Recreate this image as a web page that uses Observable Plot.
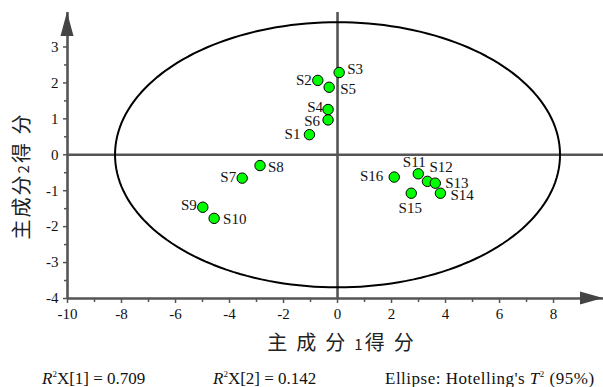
<!DOCTYPE html>
<html>
<head>
<meta charset="utf-8">
<script src="https://cdn.jsdelivr.net/npm/d3@7"></script>
<script src="https://cdn.jsdelivr.net/npm/@observablehq/plot@0.6"></script>
<style>
  html, body { margin: 0; padding: 0; background: #fff; }
  #chart svg { display: block; }
</style>
</head>
<body>
<div id="chart"></div>
<script>
// PCA score plot: sample names and their scores on PC1 / PC2
const samples = ["S1","S2","S3","S4","S5","S6","S7","S8","S9","S10","S11","S12","S13","S14","S15","S16"];
const pc1 = [-1.04, -0.73, 0.06, -0.35, -0.31, -0.35, -3.53, -2.87, -4.99, -4.57, 2.99, 3.33, 3.62, 3.81, 2.73, 2.10];
const pc2 = [0.56, 2.07, 2.29, 1.26, 1.88, 0.97, -0.65, -0.30, -1.46, -1.77, -0.53, -0.74, -0.79, -1.07, -1.07, -0.62];

// Axis ticks
const xMajor = [-10, -8, -6, -4, -2, 0, 2, 4, 6, 8];
const xMinor = [-9, -7, -5, -3, -1, 1, 3, 5, 7];
const yMajor = [-4, -3, -2, -1, 0, 1, 2, 3];
const yMinor = [-3.5, -2.5, -1.5, -0.5, 0.5, 1.5, 2.5, 3.5];

// Hotelling's T² (95%) ellipse semi-axes
const ellipseA = 8.24;
const ellipseB = 3.69;

// Model summary
const r2x1 = 0.709;
const r2x2 = 0.142;

const xDomain = [-10, 9.85];
const yDomain = [-4, 3.96];

const points = samples.map((s, i) => ({name: s, x: pc1[i], y: pc2[i]}));

const ellipse = d3.range(0, 361, 2).map(t => {
  const a = t * Math.PI / 180;
  return {x: ellipseA * Math.cos(a), y: ellipseB * Math.sin(a)};
});

// label placement around each dot: [dx, dy, anchor]
const labelPos = {
  S1: [-9, 0, "end"], S2: [-6, 0, "end"], S3: [8, -3, "start"], S4: [-5, -2, "end"],
  S5: [11, 2, "start"], S6: [-8, 1, "end"], S7: [-6, -1, "end"], S8: [8, 2, "start"],
  S9: [-6, -2, "end"], S10: [9, 1, "start"], S11: [-4, -12, "middle"], S12: [2, -14, "start"],
  S13: [10, 0, "start"], S14: [10, 2, "start"], S15: [-1, 15, "middle"], S16: [-11, -1, "end"]
};

const serif = "'Liberation Serif', 'Times New Roman', serif";
const axisColor = "#555";

const labelMarks = points.map(p => {
  const [dx, dy, anchor] = labelPos[p.name];
  return Plot.text([p], {x: "x", y: "y", text: "name", dx, dy, textAnchor: anchor,
    fontSize: 15, fontFamily: serif, fill: "#111"});
});

const chart = Plot.plot({
  width: 603,
  height: 387,
  marginLeft: 67,
  marginRight: 0,
  marginTop: 12,
  marginBottom: 89,
  style: {background: "#fff", overflow: "visible"},
  x: {domain: xDomain, axis: null},
  y: {domain: yDomain, axis: null},
  marks: [
    // zero lines
    Plot.ruleY([0], {stroke: axisColor, strokeWidth: 2.6}),
    Plot.ruleX([0], {stroke: axisColor, strokeWidth: 2.6}),
    // confidence ellipse
    Plot.line(ellipse, {x: "x", y: "y", stroke: "#000", strokeWidth: 2}),
    // axes
    Plot.ruleX([xDomain[0]], {stroke: axisColor, strokeWidth: 2.6}),
    Plot.ruleY([yDomain[0]], {stroke: axisColor, strokeWidth: 2.6}),
    Plot.axisX({ticks: xMajor, tickSize: 5, tickPadding: 5, stroke: axisColor, strokeWidth: 1.5, label: null,
      tickFormat: d => String(d), fontSize: 15, fontFamily: serif, fill: "#111"}),
    Plot.axisX({ticks: xMinor, tickSize: 4, stroke: axisColor, strokeWidth: 1.5, text: null, label: null}),
    Plot.axisY({ticks: yMajor, tickSize: 4, tickPadding: 5, stroke: axisColor, strokeWidth: 1.5, label: null,
      tickFormat: d => String(d), fontSize: 15, fontFamily: serif, fill: "#111"}),
    Plot.axisY({ticks: yMinor, tickSize: 3, stroke: axisColor, strokeWidth: 1.5, text: null, label: null}),
    // samples
    Plot.dot(points, {x: "x", y: "y", r: 5.2, fill: "#00ff00", stroke: "#000", strokeWidth: 1}),
    ...labelMarks
  ]
});

document.getElementById("chart").append(chart);

const svg = d3.select(chart);
const sx = chart.scale("x"), sy = chart.scale("y");

// filled arrow heads at the ends of both axes, placed through the plot scales
function arrowHead(px, py, angle, len, half) {
  svg.append("path")
    .attr("transform", `translate(${px},${py}) rotate(${angle})`)
    .attr("d", `M0,0L${half},${len}L${-half},${len}Z`)
    .attr("fill", "#444");
}
arrowHead(sx.apply(xDomain[0]), sy.apply(yDomain[1]), 0, 24, 6.5);
arrowHead(sx.apply(xDomain[1]), sy.apply(yDomain[0]), 90, 23, 6.5);

// axis titles and footer notes
const cjk = "'Noto Sans CJK SC', sans-serif";

const xTitle = svg.append("text")
  .attr("x", 345).attr("y", 350)
  .attr("text-anchor", "middle")
  .attr("font-family", cjk).attr("font-size", 20)
  .attr("letter-spacing", 9).attr("fill", "#222");
xTitle.append("tspan").text("主成分");
xTitle.append("tspan").attr("font-size", 15).attr("letter-spacing", 2).text("1");
xTitle.append("tspan").text("得分");

const yTitle = svg.append("text")
  .attr("transform", "translate(29,176) rotate(-90)")
  .attr("text-anchor", "middle")
  .attr("font-family", cjk).attr("font-size", 20)
  .attr("letter-spacing", 2).attr("fill", "#222");
yTitle.append("tspan").text("主成分");
yTitle.append("tspan").attr("font-size", 15).text("2");
yTitle.append("tspan").text("得 分");

function r2Note(x, idx, value) {
  const t = svg.append("text")
    .attr("x", x).attr("y", 384)
    .attr("text-anchor", "start")
    .attr("font-family", serif).attr("font-size", 17).attr("fill", "#111");
  t.append("tspan").attr("font-style", "italic").text("R");
  t.append("tspan").attr("font-size", 9).attr("dy", -7).text("2");
  t.append("tspan").attr("dy", 7).text(`X[${idx}] = ${value.toFixed(3)}`);
}
r2Note(42, 1, r2x1);
r2Note(213, 2, r2x2);

const ell = svg.append("text")
  .attr("x", 385).attr("y", 384)
  .attr("text-anchor", "start")
  .attr("font-family", serif).attr("font-size", 17)
  .attr("letter-spacing", 0.5).attr("fill", "#111");
ell.append("tspan").text("Ellipse: Hotelling's ");
ell.append("tspan").attr("font-style", "italic").text("T");
ell.append("tspan").attr("font-size", 9).attr("dy", -7).text("2");
ell.append("tspan").attr("dy", 7).text(" (95%)");
</script>
</body>
</html>
